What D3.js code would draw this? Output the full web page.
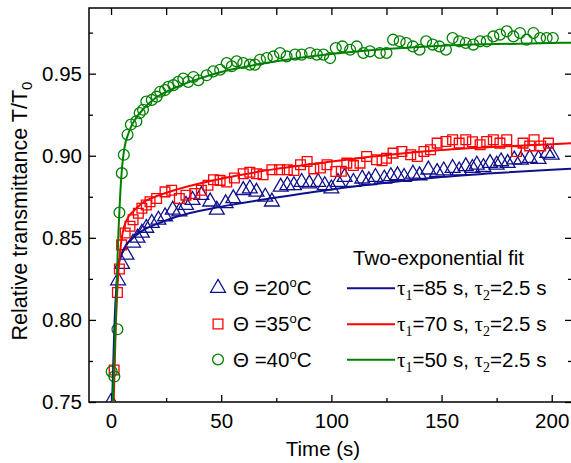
<!DOCTYPE html>
<html>
<head>
<meta charset="utf-8">
<script src="https://cdn.jsdelivr.net/npm/d3@7"></script>
<style>
  body { margin: 0; background: #fff; }
  svg { display: block; font-family: Arial, "Liberation Sans", sans-serif; }
  text { white-space: pre; }
</style>
</head>
<body>
<svg id="chart" width="571" height="463"></svg>
<script>
const blueT = [0, 3.2, 5, 7, 10, 12, 14, 16, 18.5, 21.5, 24.5, 28, 31, 34, 37, 41, 45, 48, 52, 55.5, 60, 63, 66, 70, 73, 77, 80, 83, 86.5, 90, 94, 97, 100, 103, 106, 110, 114, 117, 120, 124, 127, 130, 133, 137, 140, 144, 148, 151, 155, 158, 161, 164, 166, 169, 172, 175, 177, 180, 183, 186, 190, 194, 198, 200];
const blueV = [0.750, 0.824, 0.834, 0.8396, 0.847, 0.850, 0.853, 0.856, 0.859, 0.861, 0.863, 0.867, 0.866, 0.870, 0.873, 0.876, 0.872, 0.867, 0.871, 0.874, 0.879, 0.880, 0.878, 0.875, 0.872, 0.881, 0.882, 0.882, 0.884, 0.883, 0.884, 0.882, 0.880, 0.884, 0.887, 0.884, 0.886, 0.885, 0.887, 0.886, 0.8875, 0.888, 0.887, 0.889, 0.888, 0.8915, 0.890, 0.891, 0.8925, 0.891, 0.8935, 0.8925, 0.8945, 0.893, 0.8955, 0.8945, 0.8965, 0.8955, 0.8976, 0.8975, 0.8985, 0.898, 0.9016, 0.9006];

const redT = [1.4, 2.9, 3.8, 4.8, 6.4, 8.6, 10, 12.4, 14, 16, 17.7, 20.7, 24.5, 27.5, 31, 34, 38, 41, 44, 46.5, 49.5, 52.5, 56, 60, 63, 66, 69, 73, 76.5, 80, 83, 86, 89, 92, 95, 98, 102, 104.5, 107, 110, 113, 116, 120.5, 123, 125, 128, 132, 136, 139, 142, 145, 148, 152, 155, 158, 161, 164, 167.5, 170.5, 173.5, 176.5, 179.6, 184, 187, 190, 192, 195, 198.5];
const redV = [0.7695, 0.8167, 0.831, 0.8457, 0.853, 0.857, 0.861, 0.865, 0.868, 0.870, 0.872, 0.874, 0.878, 0.879, 0.874, 0.876, 0.877, 0.879, 0.882, 0.8854, 0.885, 0.884, 0.8864, 0.889, 0.890, 0.889, 0.8884, 0.8915, 0.8915, 0.8915, 0.891, 0.8945, 0.8965, 0.892, 0.8925, 0.8945, 0.8904, 0.8905, 0.8955, 0.894, 0.8955, 0.8996, 0.8976, 0.897, 0.8985, 0.9016, 0.9026, 0.9006, 0.8996, 0.9026, 0.9037, 0.9077, 0.9087, 0.9098, 0.9077, 0.9098, 0.9085, 0.9067, 0.9087, 0.9098, 0.9077, 0.9098, 0.9026, 0.9077, 0.906, 0.9098, 0.906, 0.9077];

const greenT = [0.3, 1.5, 2.9, 3.8, 4.9, 5.8, 7.5, 9, 11.5, 13, 14.5, 16, 18.5, 20.7, 22.3, 24.5, 26, 28.3, 30.5, 32.8, 35, 37.4, 39.6, 43.4, 46.4, 49.5, 52.5, 54.8, 57, 60, 63, 65.3, 67.6, 70.7, 73.7, 76.7, 79.7, 83.5, 86.5, 90.3, 93.4, 96.4, 99.4, 102, 105, 108.5, 111.5, 114.5, 117.5, 122, 125, 128, 131, 134, 137, 140, 143, 146, 149, 152, 155, 158, 161, 164.4, 167.5, 170.5, 173.5, 176.5, 179.6, 182.6, 185.6, 188.6, 191.7, 194.7, 197.7, 200.5];
const greenV = [0.7685, 0.7655, 0.7943, 0.8654, 0.8894, 0.9006, 0.9128, 0.919, 0.921, 0.926, 0.928, 0.933, 0.934, 0.936, 0.939, 0.940, 0.942, 0.943, 0.945, 0.947, 0.945, 0.948, 0.946, 0.949, 0.9514, 0.9524, 0.9565, 0.9545, 0.9575, 0.9565, 0.9555, 0.9555, 0.9585, 0.9595, 0.9605, 0.9626, 0.9605, 0.9616, 0.9616, 0.9626, 0.9616, 0.9616, 0.9595, 0.9656, 0.9666, 0.9646, 0.9666, 0.9626, 0.9636, 0.9626, 0.9626, 0.9707, 0.9697, 0.9687, 0.9666, 0.9646, 0.9697, 0.9677, 0.9666, 0.9646, 0.9717, 0.9697, 0.9687, 0.9677, 0.9697, 0.9697, 0.9727, 0.9738, 0.9758, 0.9727, 0.9748, 0.9707, 0.9748, 0.9717, 0.9717, 0.9717];

// fit curves at a few times
const blueFitT = [0.5, 1.5, 2.5, 3.5, 5, 7, 10, 15, 20, 30, 50, 75, 100, 125, 150, 175, 200, 215];
const blueFitV = [0.75, 0.795, 0.822, 0.834, 0.841, 0.846, 0.850, 0.855, 0.858, 0.863, 0.869, 0.8745, 0.8795, 0.8835, 0.887, 0.8895, 0.8915, 0.8925];
const redFitT = [1.2, 2, 3, 4, 5, 6, 8, 10, 15, 20, 30, 50, 75, 100, 125, 150, 175, 200, 215];
const redFitV = [0.75, 0.79, 0.822, 0.840, 0.851, 0.857, 0.863, 0.866, 0.872, 0.875, 0.8795, 0.886, 0.892, 0.8965, 0.9005, 0.9035, 0.9055, 0.907, 0.908];
const greenFitT = [0.8, 2.3, 3, 4, 5, 6, 8, 10, 15, 20, 30, 40, 50, 75, 100, 125, 150, 175, 200, 215];
const greenFitV = [0.75, 0.806, 0.84, 0.872, 0.893, 0.904, 0.914, 0.92, 0.929, 0.935, 0.942, 0.947, 0.951, 0.9575, 0.962, 0.965, 0.967, 0.968, 0.9687, 0.969];

const xMajor = [0, 50, 100, 150, 200];
const xMinor = [25, 75, 125, 175];
const yMajor = [0.75, 0.80, 0.85, 0.90, 0.95];
const yMinor = [0.775, 0.825, 0.875, 0.925, 0.975];

const temps = ["20", "35", "40"];
const tau1 = ["85", "70", "50"];
const tau2 = "2.5";
const colors = ["#10108c", "#ff0000", "#008000"];

const svg = d3.select("#chart");
const x = d3.scaleLinear().domain([-10, 209.2]).range([89, 572]);
const y = d3.scaleLinear().domain([0.75, 0.99]).range([402, 8]);

svg.append("defs").append("clipPath").attr("id", "plot")
  .append("rect").attr("x", 89).attr("y", 8).attr("width", 483).attr("height", 394);

const fontSize = 20.5;

function styleAxis(g) {
  g.select(".domain").remove();
  g.selectAll("line").attr("stroke", "#000").attr("stroke-width", 1.3);
  g.selectAll("text").attr("font-size", fontSize).attr("fill", "#000")
    .attr("font-family", "Arial, 'Liberation Sans', sans-serif");
}

// bottom
svg.append("g").attr("transform", "translate(0,402)")
  .call(d3.axisBottom(x).tickValues(xMajor).tickSizeInner(-7).tickSizeOuter(0).tickPadding(11).tickFormat(d3.format("d")))
  .call(styleAxis);
svg.append("g").attr("transform", "translate(0,402)")
  .call(d3.axisBottom(x).tickValues(xMinor).tickSizeInner(-4).tickSizeOuter(0).tickFormat(""))
  .call(styleAxis);
// top
svg.append("g").attr("transform", "translate(0,8)")
  .call(d3.axisTop(x).tickValues(xMajor).tickSizeInner(-7).tickSizeOuter(0).tickFormat(""))
  .call(styleAxis);
svg.append("g").attr("transform", "translate(0,8)")
  .call(d3.axisTop(x).tickValues(xMinor).tickSizeInner(-7).tickSizeOuter(0).tickFormat(""))
  .call(styleAxis);
// left
svg.append("g").attr("transform", "translate(89,0)")
  .call(d3.axisLeft(y).tickValues(yMajor).tickSizeInner(-7).tickSizeOuter(0).tickPadding(7).tickFormat(d3.format(".2f")))
  .call(styleAxis);
svg.append("g").attr("transform", "translate(89,0)")
  .call(d3.axisLeft(y).tickValues(yMinor).tickSizeInner(-4).tickSizeOuter(0).tickFormat(""))
  .call(styleAxis);
// right
svg.append("g").attr("transform", "translate(572,0)")
  .call(d3.axisRight(y).tickValues(yMajor).tickSizeInner(-7).tickSizeOuter(0).tickFormat(""))
  .call(styleAxis);
svg.append("g").attr("transform", "translate(572,0)")
  .call(d3.axisRight(y).tickValues(yMinor).tickSizeInner(-4).tickSizeOuter(0).tickFormat(""))
  .call(styleAxis);

// frame
svg.append("rect").attr("x", 89).attr("y", 8).attr("width", 483).attr("height", 394)
  .attr("fill", "none").attr("stroke", "#000").attr("stroke-width", 1.5);

// markers
const symTypes = [d3.symbolTriangle, d3.symbolSquare, d3.symbolCircle];
const symSizes = [95, 95, 92];
const series = [
  { t: blueT, v: blueV },
  { t: redT, v: redV },
  { t: greenT, v: greenV }
];
const fits = [
  { t: blueFitT, v: blueFitV },
  { t: redFitT, v: redFitV },
  { t: greenFitT, v: greenFitV }
];

const plot = svg.append("g").attr("clip-path", "url(#plot)");

series.forEach((s, i) => {
  const pts = s.t.map((t, j) => [t, s.v[j]]);
  plot.append("g").selectAll("path")
    .data(pts)
    .enter()
    .append("path")
    .attr("d", d3.symbol().type(symTypes[i]).size(symSizes[i]))
    .attr("transform", d => `translate(${x(d[0])},${y(d[1])})`)
    .attr("fill", "none")
    .attr("stroke", colors[i])
    .attr("stroke-width", 1.3);
});

const line = d3.line().x(d => x(d[0])).y(d => y(d[1])).curve(d3.curveMonotoneX);
fits.forEach((f, i) => {
  const pts = f.t.map((t, j) => [t, f.v[j]]);
  plot.append("path")
    .attr("d", line(pts))
    .attr("fill", "none")
    .attr("stroke", colors[i])
    .attr("stroke-width", 2);
});

// axis titles
svg.append("text")
  .attr("x", 323).attr("y", 456)
  .attr("text-anchor", "middle")
  .attr("font-size", fontSize)
  .text("Time (s)");

const yTitle = svg.append("text")
  .attr("transform", "translate(27,211) rotate(-90)")
  .attr("text-anchor", "middle")
  .attr("font-size", 21.5);
yTitle.append("tspan").text("Relative transmittance T/T");
yTitle.append("tspan").attr("font-size", 15).attr("dy", 5).text("0");

// left legend (markers)
const legRows = [295, 331, 366.5];
temps.forEach((tp, i) => {
  const cy = legRows[i] - 7;
  svg.append("path")
    .attr("d", d3.symbol().type(symTypes[i]).size(symSizes[i])())
    .attr("transform", `translate(218,${cy})`)
    .attr("fill", "none")
    .attr("stroke", colors[i])
    .attr("stroke-width", 1.3);
  const t = svg.append("text").attr("x", 233).attr("y", legRows[i]).attr("font-size", fontSize);
  t.append("tspan").text("\u0398 =" + tp);
  t.append("tspan").attr("font-size", 13).attr("dy", -8).text("o");
  t.append("tspan").attr("dy", 8).text("C");
});

// right legend (fits)
svg.append("text")
  .attr("x", 353).attr("y", 265)
  .attr("font-size", fontSize)
  .text("Two-exponential fit");

tau1.forEach((tv, i) => {
  const ly = legRows[i] - 6.7;
  svg.append("line")
    .attr("x1", 347).attr("x2", 395)
    .attr("y1", ly).attr("y2", ly)
    .attr("stroke", colors[i])
    .attr("stroke-width", 2);
  const t = svg.append("text").attr("x", 397).attr("y", legRows[i]).attr("font-size", fontSize);
  t.append("tspan").attr("font-family", "'Liberation Serif', 'DejaVu Serif', serif").attr("font-size", 21).text("\u03C4");
  t.append("tspan").attr("font-family", "'Liberation Serif', serif").attr("font-size", 14).attr("dy", 5).text("1");
  t.append("tspan").attr("dy", -5).text("=" + tv + " s, ");
  t.append("tspan").attr("font-family", "'Liberation Serif', 'DejaVu Serif', serif").attr("font-size", 21).text("\u03C4");
  t.append("tspan").attr("font-family", "'Liberation Serif', serif").attr("font-size", 14).attr("dy", 5).text("2");
  t.append("tspan").attr("dy", -5).text("=" + tau2 + " s");
});
</script>
</body>
</html>
